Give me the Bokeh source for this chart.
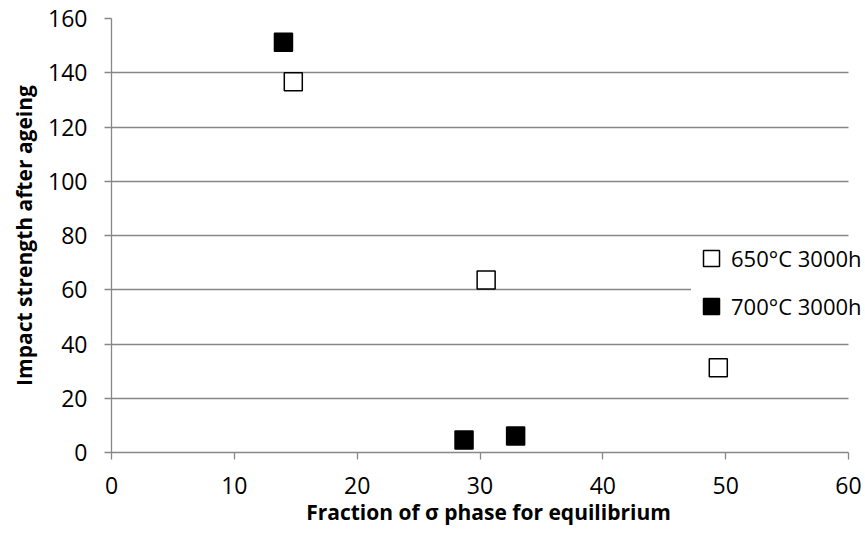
from bokeh.plotting import figure
from bokeh.models import Range1d, FixedTicker, Legend, LegendItem
from bokeh.embed import file_html
from bokeh.resources import INLINE

# Data
x_650 = [14.8, 30.5, 49.4]
y_650 = [136.7, 63.6, 31.2]
x_700 = [14.0, 28.7, 32.9]
y_700 = [151.2, 4.6, 6.1]
labels = ["650°C 3000h", "700°C 3000h"]
x_ticks = [0, 10, 20, 30, 40, 50, 60]
y_ticks = [0, 20, 40, 60, 80, 100, 120, 140, 160]

FONT = "Open Sans"
GRAY = "#878787"

# frame spans to the right edge so the legend (which sits past x=60) is not clipped;
# axis and grid are bounded to 0..60
x_end = 60 * (865 - 111) / (848 - 111)

p = figure(width=865, height=542, output_backend="svg", toolbar_location=None,
           x_range=Range1d(0, x_end), y_range=Range1d(0, 160),
           min_border_left=111, min_border_right=0, min_border_top=18, min_border_bottom=90)
p.outline_line_color = None
p.background_fill_color = "white"
p.border_fill_color = "white"

p.xgrid.grid_line_color = None
p.ygrid.grid_line_color = GRAY
p.ygrid.grid_line_width = 1.3
p.ygrid.ticker = FixedTicker(ticks=y_ticks)
p.ygrid.cross_bounds = (0, 60)

for ax in (p.xaxis[0], p.yaxis[0]):
    ax.axis_line_color = GRAY
    ax.axis_line_width = 1.3
    ax.major_tick_line_color = GRAY
    ax.major_tick_line_width = 1.3
    ax.major_tick_in = 0
    ax.major_tick_out = 7
    ax.minor_tick_line_color = None
    ax.major_label_text_font = FONT
    ax.major_label_text_font_size = "23px"
    ax.major_label_text_color = "black"
    ax.axis_label_text_font = FONT
    ax.axis_label_text_font_style = "bold"
    ax.axis_label_text_font_size = "21px"
    ax.axis_label_text_color = "black"

p.xaxis.ticker = FixedTicker(ticks=x_ticks)
p.yaxis.ticker = FixedTicker(ticks=y_ticks)
p.xaxis.bounds = (0, 60)
p.xaxis.major_label_standoff = 17
p.yaxis.major_label_standoff = 17
p.xaxis.axis_label = "Fraction of σ phase for equilibrium"
p.yaxis.axis_label = "Impact strength after ageing"
p.xaxis.axis_label_standoff = 1
p.yaxis.axis_label_standoff = 7

r650 = p.scatter(x_650, y_650, marker="square", size=18, fill_color="white",
                 line_color="black", line_width=1.5)
r700 = p.scatter(x_700, y_700, marker="square", size=18, fill_color="black",
                 line_color="black", line_width=1.5)

legend = Legend(items=[LegendItem(label=labels[0], renderers=[r650]),
                       LegendItem(label=labels[1], renderers=[r700])],
                location=(580, 126), orientation="vertical")
legend.glyph_width = 40
legend.glyph_height = 40
legend.spacing = 8
legend.padding = 5
legend.margin = 0
legend.label_standoff = 0
legend.label_text_font = FONT
legend.label_text_font_size = "22px"
legend.label_text_color = "black"
legend.border_line_color = None
legend.background_fill_color = "white"
legend.background_fill_alpha = 1.0
p.add_layout(legend, "center")

open("out.html", "w").write(file_html(p, INLINE))
